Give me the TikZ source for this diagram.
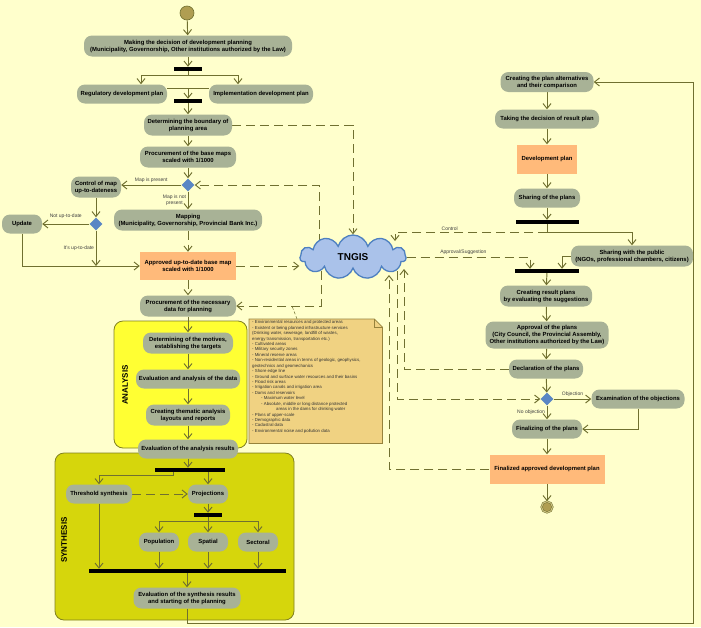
\documentclass[tikz,border=0pt]{standalone}
\usepackage{fontspec}
\setmainfont{Liberation Sans}
\usetikzlibrary{arrows.meta}
\usetikzlibrary{shapes.geometric, shapes.symbols}

\definecolor{paper}{RGB}{255,255,204}
\definecolor{actgray}{RGB}{168,178,150}
\definecolor{planorange}{RGB}{255,186,122}
\definecolor{wire}{RGB}{112,112,48}
\definecolor{gateblue}{RGB}{90,134,196}
\definecolor{cloudfill}{RGB}{170,194,234}
\definecolor{clouddraw}{RGB}{78,128,192}
\definecolor{anayellow}{RGB}{255,255,51}
\definecolor{synyellow}{RGB}{214,214,12}
\definecolor{boxrim}{RGB}{128,128,32}
\definecolor{notefill}{RGB}{240,210,130}
\definecolor{noterim}{RGB}{150,130,60}
\definecolor{dotfill}{RGB}{176,158,82}

\pgfdeclarelayer{bg}
\pgfdeclarelayer{wires}
\pgfsetlayers{bg,wires,main}

\tikzset{
  act/.style={fill=actgray, rounded corners=8pt, align=center, inner sep=1pt,
    minimum height=19pt, font=\fontsize{5.9}{7}\selectfont\bfseries},
  plan/.style={fill=planorange, align=center, inner sep=1pt,
    font=\fontsize{5.9}{7}\selectfont\bfseries},
  syncbar/.style={fill=black, inner sep=0pt, minimum height=4pt},
  gate/.style={diamond, fill=gateblue, inner sep=0pt, minimum size=13pt},
  wireline/.style={draw=wire, line width=0.95pt},
  flowarrow/.style={wireline, -{Straight Barb[length=5pt,width=8pt]}},
  dataarrow/.style={flowarrow, dash pattern=on 9pt off 5pt},
  elabel/.style={font=\fontsize{5}{6}\selectfont, text=black!75, align=center, inner sep=1.5pt},
  lanelabel/.style={font=\fontsize{8}{9}\selectfont\bfseries, rotate=90},
  startdot/.style={circle, draw=wire, fill=dotfill, minimum size=14pt, inner sep=0pt, line width=0.6pt},
  stopdot/.style={circle, draw=wire, fill=dotfill, minimum size=11pt, inner sep=0pt,
    line width=0.5pt, double=dotfill!60!paper, double distance=1pt},
  cloudnode/.style={cloud, cloud puffs=11, cloud ignores aspect, draw=clouddraw, fill=cloudfill,
    line width=1.3pt, minimum width=106pt, minimum height=44pt, inner sep=0pt,
    font=\fontsize{10}{12}\selectfont\bfseries},
  notetext/.style={font=\fontsize{4.35}{5.42}\selectfont, align=left, inner sep=0pt, text=black!80}
}

\begin{document}
\begin{tikzpicture}[x=1pt,y=-1pt]
\begin{pgfonlayer}{bg}
\fill[paper] (0,0) rectangle (701,627);
\filldraw[fill=anayellow, draw=boxrim, line width=0.8pt, rounded corners=9pt] (114,321) rectangle (247,448);
\filldraw[fill=synyellow, draw=boxrim, line width=0.8pt, rounded corners=9pt] (55,453) rectangle (294,620);
\end{pgfonlayer}
\useasboundingbox (0,0) rectangle (701,627);

% left column
\node[startdot] (start) at (187,13) {};
\node[act, minimum width=208pt, minimum height=21pt] (decide) at (188,46) {Making the decision of development planning\\(Municipality, Governorship, Other institutions authorized by the Law)};
\node[syncbar, minimum width=28pt] (fork1) at (188,69) {};
\node[act, minimum width=90pt] (regplan) at (122,94) {Regulatory development plan};
\node[act, minimum width=104pt] (implplan) at (261,94) {Implementation development plan};
\node[syncbar, minimum width=28pt] (join1) at (188,101) {};
\node[act, minimum width=88pt, minimum height=21pt] (boundary) at (188,125) {Determining the boundary of\\planning area};
\node[act, minimum width=96pt, minimum height=21pt] (basemaps) at (188,157) {Procurement of the base maps\\scaled with 1/1000};
\node[gate] (mapgate) at (188,185) {};
\node[act, minimum width=50pt, minimum height=21pt] (control) at (96,187) {Control of map\\up-to-dateness};
\node[act, minimum width=148pt, minimum height=21pt] (mapping) at (188,220) {Mapping\\(Municipality, Governorship, Provincial Bank Inc.)};
\node[gate] (dategate) at (96,224) {};
\node[act, minimum width=40pt] (update) at (22,224) {Update};
\node[plan, minimum width=96pt, minimum height=28pt] (approvedmap) at (188,266) {Approved up-to-date base map\\scaled with 1/1000};
\node[act, minimum width=96pt, minimum height=21pt] (necdata) at (188,306) {Procurement of the necessary\\data for planning};

% analysis
\node[lanelabel] (analysislabel) at (125,385) {ANALYSIS};
\node[act, minimum width=90pt, minimum height=21pt] (motives) at (188,343) {Determining of the motives,\\establishing the targets};
\node[act, minimum width=104pt] (evaldata) at (188,379) {Evaluation and analysis of the data};
\node[act, minimum width=84pt, minimum height=21pt] (thematic) at (188,415) {Creating thematic analysis\\layouts and reports};
\node[act, minimum width=100pt] (evalanal) at (188,449) {Evaluation of the analysis results};

% synthesis
\node[lanelabel] (synthesislabel) at (64,540) {SYNTHESIS};
\node[syncbar, minimum width=70pt] (fork2) at (190,470) {};
\node[act, minimum width=66pt] (threshold) at (99,494) {Threshold synthesis};
\node[act, minimum width=40pt] (projections) at (208,494) {Projections};
\node[syncbar, minimum width=28pt] (fork3) at (208,515) {};
\node[act, minimum width=40pt] (population) at (159,542) {Population};
\node[act, minimum width=40pt] (spatial) at (208,542) {Spatial};
\node[act, minimum width=40pt] (sectoral) at (258,542) {Sectoral};
\node[syncbar, minimum width=197pt] (join2) at (187.5,571) {};
\node[act, minimum width=107pt, minimum height=21pt] (evalsyn) at (187,598) {Evaluation of the synthesis results\\and starting of the planning};

% data note
\node[minimum width=133pt, minimum height=124pt, inner sep=0pt, anchor=north west] (note) at (249,319) {};
\node[notetext, anchor=north west] (notebody) at (252,320.5) {- Environmental resources and protected areas\\
- Existent or being planned infrastructure services\\
(Drinking water, sewerage, landfill of wastes,\\
energy transmission, transportation etc.)\\
- Cultivated areas\\
- Military security zones\\
- Mineral reserve areas\\
- Non-residential areas in terms of geologic, geophysics,\\
geotechnics and geomechanics\\
- Shore edge line\\
- Ground and surface water resources and their basins\\
- Flood risk areas\\
- Irrigation canals and irrigation area\\
- Dams and reservoirs\\
\hspace{9pt}- Maximum water level\\
\hspace{9pt}- Absolute, middle or long distance protected\\
\hspace{24pt}areas in the dams for drinking water\\
- Plans of upper-scale\\
- Demographic data\\
- Cadastral data\\
- Environmental noise and pollution data};

% TNGIS
\node[cloudnode] (tngis) at (353,257) {TNGIS};
\coordinate (tnA) at ([xshift=42pt,yshift=16pt]tngis.center);
\coordinate (tnB) at ([xshift=51pt,yshift=-12pt]tngis.center);
\coordinate (tnC) at ([xshift=36pt,yshift=-18pt]tngis.center);

% right column
\node[act, minimum width=93pt, minimum height=20pt] (alternatives) at (547,82) {Creating the plan alternatives\\and their comparison};
\node[act, minimum width=104pt] (resultplan) at (547,119) {Taking the decision of result plan};
\node[plan, minimum width=60pt, minimum height=29pt] (devplan) at (547,159) {Development plan};
\node[act, minimum width=66pt] (shareplans) at (547,198) {Sharing of the plans};
\node[syncbar, minimum width=63pt] (fork4) at (547,222) {};
\node[act, minimum width=122pt, minimum height=21pt] (public) at (632,256) {Sharing with the public\\(NGOs, professional chambers, citizens)};
\node[syncbar, minimum width=64pt] (join3) at (547,271) {};
\node[act, minimum width=92pt, minimum height=21pt] (creating) at (546,296) {Creating result plans\\by evaluating the suggestions};
\node[act, minimum width=123pt, minimum height=27pt] (approval) at (547,335) {Approval of the plans\\(City Council, the Provincial Assembly,\\Other institutions authorized by the Law)};
\node[act, minimum width=74pt] (declaration) at (546,369) {Declaration of the plans};
\node[gate] (plangate) at (547,399) {};
\node[act, minimum width=93pt] (objections) at (638,399) {Examination of the objections};
\node[act, minimum width=70pt] (finalizing) at (547,429) {Finalizing of the plans};
\node[plan, minimum width=115pt, minimum height=29pt] (finalplan) at (547,469) {Finalized approved development plan};
\node[stopdot] (stop) at (547,507) {};
\coordinate (loopcorner) at (693,623);

\begin{pgfonlayer}{wires}
\filldraw[fill=notefill, draw=noterim, line width=0.7pt] (note.north west) -- ([xshift=-8pt]note.north east) -- ([yshift=-8pt]note.north east) -- (note.south east) -- (note.south west) -- cycle;
\draw[noterim, line width=0.7pt] ([xshift=-8pt]note.north east) -- ++(0,8) -- ([yshift=-8pt]note.north east);
\draw[wire, line width=0.5pt, dash pattern=on 3pt off 2pt] ([xshift=48pt]note.north west) -- ++(-5,-13);

\draw[flowarrow] (start) -- (decide);
\draw[flowarrow] (decide) -- (fork1);
\draw[flowarrow] (fork1.south) -- ++(0,4) -| ([xshift=19pt]regplan.north);
\draw[flowarrow] (fork1.south) -- ++(0,4) -| ([xshift=-23pt]implplan.north);
\coordinate (j1) at (188,88);
\draw[wireline] (regplan.east |- j1) -- (implplan.west |- j1);
\draw[flowarrow] (j1) -- (join1);
\draw[flowarrow] (join1) -- (boundary);
\draw[flowarrow] (boundary) -- (basemaps);
\draw[flowarrow] (basemaps) -- (mapgate);
\draw[flowarrow] (mapgate) -- (control.east |- mapgate) node[elabel, above, midway] {Map is present};
\draw[flowarrow] (mapgate) -- (mapping) node[elabel, left, midway] {Map is not\\present};
\draw[flowarrow] (control) -- (dategate);
\draw[flowarrow] (dategate) -- (update) node[elabel, above=3pt, midway] {Not up-to-date};
\draw[flowarrow] (dategate) -- (dategate |- approvedmap.west) node[elabel, left, midway] {It's up-to-date};
\draw[flowarrow] (update) |- (approvedmap);
\draw[dataarrow] (mapping) -- (approvedmap);
\draw[dataarrow] (approvedmap) -- (necdata);
\draw[dataarrow] (approvedmap) -- (approvedmap -| tngis.west);
\draw[dataarrow] (boundary) -| (tngis);
\draw[dataarrow] ([xshift=-34pt]tngis.center) |- (mapgate);
\draw[dataarrow] ([xshift=-32pt]tngis.center) |- (necdata);

\draw[flowarrow] (necdata) -- (motives);
\draw[flowarrow] (motives) -- (evaldata);
\draw[flowarrow] (evaldata) -- (thematic);
\draw[flowarrow] (thematic) -- (evalanal);
\draw[flowarrow] (evalanal.south) -- (evalanal.south |- fork2.north);
\draw[flowarrow] ([xshift=-17pt]fork2.south) -- ++(0,3) -| (threshold);
\draw[flowarrow] (fork2.south -| projections) -- (projections);
\draw[dataarrow] (threshold) -- (projections);
\draw[flowarrow] (projections) -- (fork3);
\draw[wireline] (fork3.south) -- ++(0,4) coordinate (f3);
\draw[flowarrow] (f3) -| (population);
\draw[flowarrow] (f3) -- (spatial);
\draw[flowarrow] (f3) -| (sectoral);
\draw[flowarrow] (threshold) -- (threshold |- join2.north);
\draw[flowarrow] (population) -- (population |- join2.north);
\draw[flowarrow] (spatial) -- (spatial |- join2.north);
\draw[flowarrow] (sectoral) -- (sectoral |- join2.north);
\draw[flowarrow] (join2.south -| evalsyn) -- (evalsyn);
\draw[flowarrow] (evalsyn) |- (loopcorner) |- (alternatives);

\draw[flowarrow] (alternatives) -- (resultplan);
\draw[flowarrow] (resultplan) -- (devplan);
\draw[flowarrow] (devplan) -- (shareplans);
\draw[flowarrow] (shareplans) -- (fork4);
\draw[wireline] (fork4.south) -- ++(0,8) coordinate (f4);
\draw[flowarrow] (f4) -| (public);
\draw[dataarrow] (f4) -| (tnA) node[elabel, above, pos=0.32] {Control};
\draw[flowarrow] (public.west) -| ([xshift=15pt]join3.north);
\draw[dataarrow] (tngis.east) -| ([xshift=-17pt]join3.north) node[elabel, above, pos=0.23] {Approval/Suggestion};
\draw[flowarrow] (join3) -- (creating);
\draw[flowarrow] (creating) -- (approval);
\draw[flowarrow] (approval) -- (declaration);
\draw[flowarrow] (declaration) -- (plangate);
\draw[flowarrow] (plangate) -- (objections) node[elabel, above, midway] {Objection};
\draw[flowarrow] (plangate) -- (finalizing) node[elabel, left, midway] {No objection};
\draw[flowarrow] (objections) |- (finalizing);
\draw[flowarrow] (finalizing) -- (finalplan);
\draw[flowarrow] (finalplan) -- (stop);
\draw[dataarrow] (declaration) -| (tnB);
\draw[dataarrow] ([xshift=44pt]tngis.center) |- (plangate);
\draw[dataarrow] (finalplan) -| (tnC);
\end{pgfonlayer}

\end{tikzpicture}
\end{document}
